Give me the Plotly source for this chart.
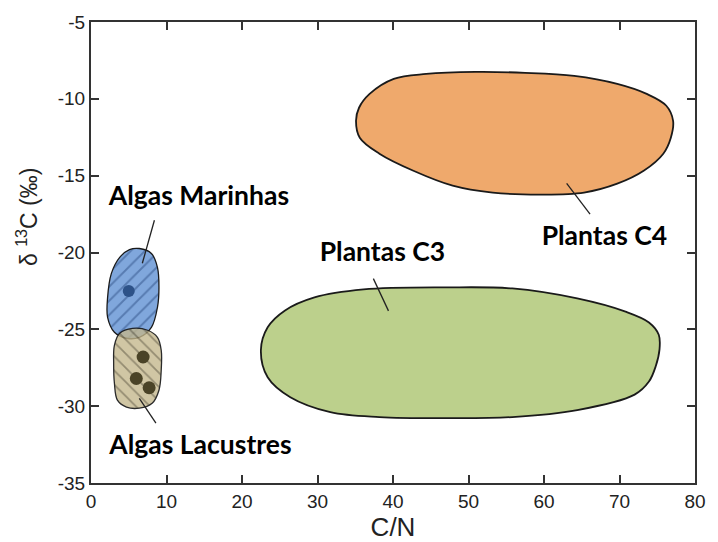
import plotly.graph_objects as go

# ---- data (C/N vs delta13C) ----
c4_x = [50.9, 57.5, 64.0, 69.7, 73.6, 76.2, 77.1, 76.8, 75.8, 73.2, 69.7, 65.3, 59.7, 53.2, 47.9, 42.7, 38.2, 35.6, 35.1, 35.5, 36.9, 40.1, 44.4, 50.9]
c4_y = [-8.25, -8.31, -8.51, -9.03, -9.68, -10.45, -11.43, -12.53, -13.57, -14.68, -15.52, -16.10, -16.23, -16.10, -15.65, -14.68, -13.57, -12.53, -11.43, -10.58, -9.68, -8.70, -8.38, -8.25]

c3_x = [47.0, 55.8, 64.4, 70.8, 73.9, 75.2, 75.3, 74.8, 73.9, 72.0, 64.4, 55.8, 47.0, 38.2, 31.7, 26.4, 23.4, 22.5, 23.4, 25.7, 29.6, 36.1, 47.0]
c3_y = [-22.27, -22.34, -22.99, -23.85, -24.55, -25.35, -26.30, -27.40, -28.40, -29.25, -30.26, -30.71, -30.78, -30.71, -30.39, -29.42, -28.12, -26.36, -24.87, -23.77, -22.92, -22.40, -22.27]

mar_x = [6.4, 8.0, 8.8, 9.0, 8.8, 8.0, 6.4, 4.7, 3.1, 2.2, 2.2, 2.7, 3.8, 5.1, 6.4]
mar_y = [-19.74, -20.06, -20.97, -22.27, -23.57, -24.87, -25.52, -25.58, -25.19, -24.22, -22.92, -21.36, -20.32, -19.81, -19.74]

lac_x = [5.5, 7.5, 8.8, 9.3, 9.3, 9.0, 8.1, 6.4, 4.7, 3.5, 3.1, 3.0, 3.1, 3.8, 5.5]
lac_y = [-24.94, -25.06, -25.52, -26.36, -27.66, -28.96, -29.81, -30.13, -30.06, -29.61, -28.51, -27.21, -26.04, -25.26, -24.94]

mar_pts_x = [5.0]
mar_pts_y = [-22.5]
lac_pts_x = [6.9, 6.0, 7.7]
lac_pts_y = [-26.8, -28.2, -28.8]

labels = ["Algas Marinhas", "Algas Lacustres", "Plantas C3", "Plantas C4"]
label_x = [14.3, 14.5, 38.6, 68.0]
label_y = [-16.5, -32.7, -20.1, -19.1]
leader_x = [[8.4, 6.8], [6.4, 8.6], [37.4, 39.4], [63.0, 66.1]]
leader_y = [[-17.9, -20.7], [-29.5, -31.1], [-21.7, -23.8], [-15.5, -17.5]]

x_ticks = [0, 10, 20, 30, 40, 50, 60, 70, 80]
y_ticks = [-35, -30, -25, -20, -15, -10, -5]

fig = go.Figure()

fig.add_trace(go.Scatter(x=c4_x, y=c4_y, mode="lines", line=dict(color="#1a1a1a", width=1.8, shape="spline", smoothing=1.0),
                         fill="toself", fillcolor="#EFA96C", hoverinfo="skip", showlegend=False))
fig.add_trace(go.Scatter(x=c3_x, y=c3_y, mode="lines", line=dict(color="#1a1a1a", width=1.8, shape="spline", smoothing=1.0),
                         fill="toself", fillcolor="#BCD08C", hoverinfo="skip", showlegend=False))
fig.add_trace(go.Scatter(x=mar_x, y=mar_y, mode="lines", line=dict(color="#1a1a1a", width=1.3, shape="spline"),
                         fill="toself", fillcolor="#80A7DC",
                         fillpattern=dict(shape="/", bgcolor="#80A7DC", fgcolor="#2E4F86", size=10, solidity=0.2),
                         hoverinfo="skip", showlegend=False))
fig.add_trace(go.Scatter(x=lac_x, y=lac_y, mode="lines", line=dict(color="#1a1a1a", width=1.3, shape="spline"),
                         fill="toself", fillcolor="rgba(196,184,140,0.85)", opacity=0.92,
                         fillpattern=dict(shape="\\", bgcolor="rgba(196,184,140,0.85)", fgcolor="#4A4330", size=10, solidity=0.18),
                         hoverinfo="skip", showlegend=False))
fig.add_trace(go.Scatter(x=mar_pts_x, y=mar_pts_y, mode="markers",
                         marker=dict(size=12, color="#2D5288"), hoverinfo="skip", showlegend=False))
fig.add_trace(go.Scatter(x=lac_pts_x, y=lac_pts_y, mode="markers",
                         marker=dict(size=13, color="#4A4327"), hoverinfo="skip", showlegend=False))

for lx, ly in zip(leader_x, leader_y):
    fig.add_trace(go.Scatter(x=lx, y=ly, mode="lines", line=dict(color="#222", width=1.3),
                             hoverinfo="skip", showlegend=False))

fig.add_trace(go.Scatter(x=label_x, y=label_y, mode="text", text=labels,
                         textfont=dict(family="Lato", size=26.5, color="#000"),
                         texttemplate="<b>%{text}</b>", hoverinfo="skip", showlegend=False))

axis_common = dict(showline=True, linecolor="#333", linewidth=2, mirror="ticks",
                   ticks="inside", ticklen=8, tickwidth=1.5, tickcolor="#333",
                   showgrid=False, zeroline=False,
                   tickfont=dict(family="Liberation Sans, Arial", size=19, color="#222"))

fig.update_xaxes(range=[0, 80], tickvals=x_ticks, ticktext=[str(v) for v in x_ticks],
                 title=dict(text="C/N", font=dict(family="Liberation Sans, Arial", size=26, color="#222"), standoff=0),
                 **axis_common)
fig.update_yaxes(range=[-35, -5], tickvals=y_ticks, ticktext=[str(v) for v in y_ticks],
                 **axis_common)

fig.add_annotation(text="δ <sup>13</sup>C (‰)", xref="paper", yref="paper", x=-0.105, y=0.576,
                   xanchor="center", yanchor="middle",
                   textangle=-90, showarrow=False,
                   font=dict(family="Liberation Sans, Arial", size=23, color="#222"))

fig.update_layout(width=718, height=542, autosize=False, margin=dict(l=91, r=16, t=21, b=59),
                  plot_bgcolor="white", paper_bgcolor="white")

fig.write_html("out.html",
               config={"displayModeBar": False, "responsive": False},
               post_script="document.body.style.margin='0';document.body.style.overflow='hidden';")
